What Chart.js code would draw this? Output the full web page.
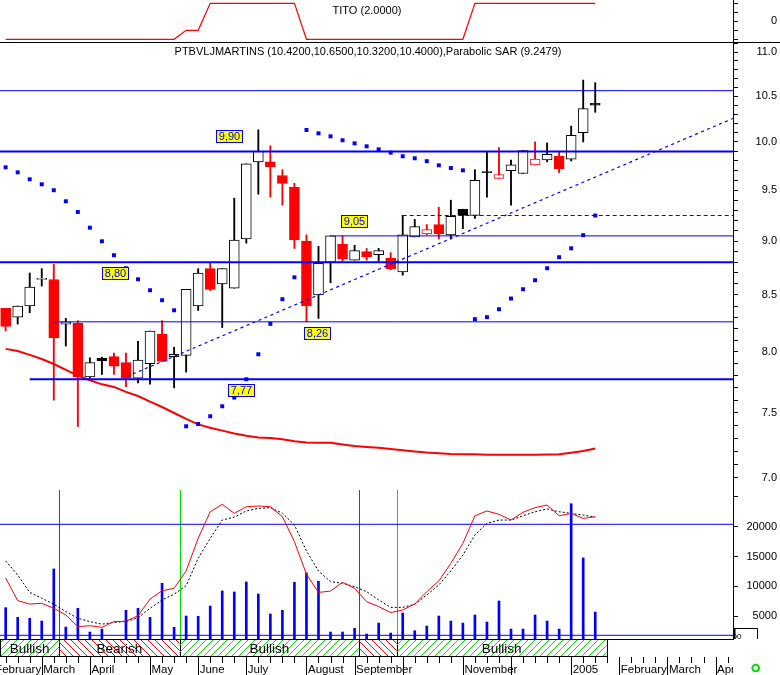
<!DOCTYPE html>
<html>
<head>
<meta charset="utf-8">
<script src="https://cdn.jsdelivr.net/npm/chart.js@4.4.1/dist/chart.umd.min.js"></script>
<style>
  html, body { margin: 0; padding: 0; background: #fff; }
  #wrap { position: relative; width: 780px; height: 675px; overflow: hidden; background: #fff; }
  canvas { position: absolute; left: 0; }
</style>
</head>
<body>
<div id="wrap">
  <canvas id="titoChart" width="780" height="43" style="top:0"></canvas>
  <canvas id="priceChart" width="780" height="447" style="top:43px"></canvas>
  <canvas id="volChart" width="780" height="185" style="top:490px"></canvas>
</div>
<script>
const FONT = "'Liberation Sans', Arial, sans-serif";
const X_MIN = -0.47;
const X_MAX = 60.45;

// --- weekly candles, Feb 2004 -> Jan 2005 ---
const opens  = [8.38, 8.30, 8.40, 8.64, 8.64, 8.24, 8.25, 7.79, 7.945, 7.96,
                7.91, 7.78, 7.90, 8.15, 7.96, 7.97, 8.40, 8.74, 8.60, 8.56,
                9.02, 9.79, 9.79, 9.65, 9.53, 9.00, 8.50, 8.80, 8.97, 8.82,
                8.90, 8.87, 8.84, 8.71, 9.04, 9.07, 9.16, 9.06, 9.31, 9.25,
                9.69, 9.62, 9.70, 9.67, 9.76, 9.81, 9.85, 9.82, 10.10, 10.42];
const highs  = [8.38, 8.40, 8.70, 8.74, 8.78, 8.29, 8.27, 7.95, 7.955, 7.99,
                7.99, 8.09, 8.18, 8.27, 8.04, 8.55, 8.74, 8.79, 8.74, 9.42,
                9.77, 10.13, 9.96, 9.71, 9.57, 9.06, 8.95, 9.05, 9.05, 8.96,
                8.93, 8.93, 8.89, 9.25, 9.21, 9.16, 9.33, 9.40, 9.31, 9.71,
                9.89, 9.94, 9.81, 9.91, 10.00, 9.99, 9.89, 10.17, 10.68, 10.65];
const lows   = [8.18, 8.24, 8.34, 8.58, 7.60, 8.05, 7.39, 7.78, 7.81, 7.81,
                7.71, 7.74, 7.73, 7.92, 7.70, 7.83, 8.36, 8.54, 8.21, 8.56,
                8.98, 9.46, 9.43, 9.35, 8.93, 8.26, 8.29, 8.61, 8.81, 8.82,
                8.82, 8.81, 8.73, 8.68, 9.04, 9.06, 9.02, 9.02, 9.12, 9.22,
                9.43, 9.62, 9.35, 9.67, 9.76, 9.79, 9.68, 9.80, 10.00, 10.32];
const closes = [8.22, 8.40, 8.57, 8.65, 8.12, 8.26, 7.79, 7.91, 7.925, 7.88,
                7.78, 7.93, 8.18, 7.92, 7.98, 8.55, 8.70, 8.55, 8.74, 9.01,
                9.77, 9.90, 9.74, 9.57, 9.01, 8.40, 8.79, 9.05, 8.83, 8.91,
                8.85, 8.91, 8.74, 9.06, 9.14, 9.11, 9.07, 9.24, 9.25, 9.60,
                9.68, 9.66, 9.76, 9.91, 9.82, 9.87, 9.72, 10.07, 10.36, 10.40];

const movingAvg = [8.026, 8.007, 7.975, 7.94, 7.898, 7.848, 7.801, 7.763, 7.729, 7.708,
                   7.667, 7.634, 7.588, 7.545, 7.497, 7.45, 7.407, 7.381, 7.358, 7.335,
                   7.318, 7.305, 7.30, 7.29, 7.276, 7.265, 7.263, 7.263, 7.251, 7.239,
                   7.231, 7.225, 7.216, 7.206, 7.197, 7.189, 7.184, 7.178, 7.175, 7.175,
                   7.172, 7.172, 7.172, 7.172, 7.172, 7.173, 7.176, 7.187, 7.201, 7.219];

const parabolicSar = [9.734, 9.682, 9.611, 9.56, 9.50, 9.389, 9.283, 9.129, 8.998, 8.866,
                      8.744, 8.642, 8.542, 8.452, 8.362, 7.392, 7.41, 7.471, 7.551, 7.621,
                      7.771, 7.98, 8.242, 8.461, 8.66, 10.128, 10.092, 10.06, 10.018, 9.985,
                      9.954, 9.922, 9.887, 9.849, 9.828, 9.798, 9.755, 9.727, 9.703, 8.283,
                      8.301, 8.371, 8.467, 8.551, 8.633, 8.744, 8.847, 8.931, 9.057, 9.2479];

const volumes = [6400, 4780, 4610, 4160, 12910, 3150, 6300, 2310, 2810, 800,
                 5960, 6300, 4780, 10500, 3100, 5000, 4950, 6680, 9210, 9040,
                 10720, 8700, 5340, 5960, 10670, 12240, 10840, 2310, 2310, 2930,
                 1970, 3820, 2140, 5500, 2530, 3320, 5000, 4160, 3820, 5170,
                 3990, 7530, 2810, 2810, 5170, 4160, 2810, 23860, 14760, 5670];

const stochK = [51.0, 38.7, 36.9, 37.3, 34.6, 31.0, 24.7, 25.2, 24.3, 27.4,
                27.6, 30.6, 39.6, 44.1, 45.4, 54.8, 72.4, 86.8, 90.8, 85.9,
                89.5, 89.9, 89.5, 84.1, 70.6, 53.0, 43.2, 43.9, 48.7, 45.4,
                38.2, 35.5, 32.3, 33.7, 36.9, 43.6, 49.4, 58.9, 69.7, 84.6,
                87.2, 85.4, 82.3, 86.5, 89.0, 90.4, 84.6, 85.9, 83.2, 84.1];
const stochD = [60.2, 52.6, 43.2, 40.0, 36.8, 32.8, 29.2, 27.4, 26.0, 27.0,
                27.4, 29.5, 34.6, 39.1, 42.2, 46.8, 61.6, 72.4, 82.3, 83.9,
                87.2, 88.6, 89.0, 86.0, 79.6, 65.6, 54.8, 49.0, 48.1, 46.3,
                43.6, 39.1, 35.1, 35.1, 36.8, 41.8, 47.2, 54.8, 63.4, 74.2,
                80.5, 82.3, 82.3, 84.6, 86.8, 88.3, 86.8, 85.9, 85.0, 83.9];
const stochLevels = [80, 20];

const tito = [-2, -2, -2, -2, -2, -2, -2, -2, -2, -2, -2, -2, -2, -2, -2, -1, -1,
              2, 2, 2, 2, 2, 2, 2, 2,
              -2, -2, -2, -2, -2, -2, -2, -2, -2, -2, -2, -2, -2, -2,
              2, 2, 2, 2, 2, 2, 2, 2, 2, 2, 2];

// support / resistance lines (null = from the left edge)
const majorLevels = [9.90, 8.80, 7.77];
const majorFrom   = [null, null, 2];
const minorLevels = [10.56, 9.05, 8.26];
const minorFrom   = [null, 27, 4];
const sarLineFrom = 33;
const trendIdx = [10.08, 60.45];
const trendVal = [7.794, 10.253];

const labelVals = [9.90, 8.80, 9.05, 8.26, 7.77];
const labelAt   = [17.5, 8.0, 27.85, 24.8, 18.45];
const labelSide = ['above', 'below', 'above', 'below', 'below'];

// signal bands under the volume panel
const bandEdges = [-0.47, 4.45, 14.45, 29.4, 32.5, 49.95];
const bandNames = ['Bullish', 'Bearish', 'Bullish', 'Bearish', 'Bullish'];

// x axis: week index where each month starts
const monthIdx   = [-1, 3, 7, 12, 16, 20, 25, 29, 33, 38, 42, 47, 51, 55, 59];
const monthNames = ['February', 'March', 'April', 'May', 'June', 'July', 'August', 'September',
                    'October', 'November', 'December', '2005', 'February', 'March', 'April'];

const priceLabels = [7.0, 7.5, 8.0, 8.5, 9.0, 9.5, 10.0, 10.5, 11.0];
const volumeTicks = [5000, 10000, 15000, 20000, 25000];
const titoTicks = [-2, -1, 0, 1, 2];

Chart.defaults.font.family = FONT;
Chart.defaults.color = '#000';

const BLUE = '#0000ff';
const RED = '#ff0000';
const GREEN = '#00e000';

const pts = arr => arr.map((v, i) => ({ x: i, y: v }));
const hLine = (v, from) => [{ x: from == null ? X_MIN : from, y: v }, { x: X_MAX, y: v }];
const xScale = () => ({ type: 'linear', min: X_MIN, max: X_MAX, offset: false, display: false });

function fixAxis(scale) {
    scale.width = 44;
    scale.paddingTop = 0;
    scale.paddingBottom = 0;
}

function baseOptions(bottom) {
    return {
        responsive: false,
        animation: false,
        devicePixelRatio: 1,
        events: [],
        layout: { autoPadding: false, padding: { left: 0, top: 0, right: 3, bottom: bottom } },
        plugins: { legend: { display: false }, tooltip: { enabled: false } }
    };
}

function rightAxis(extra) {
    return Object.assign({
        position: 'right',
        beginAtZero: false,
        afterFit: fixAxis,
        grid: { drawOnChartArea: false, tickLength: 5, color: '#000' },
        border: { color: '#000' }
    }, extra);
}

// --- candle colouring: hollow when close > open, red when close fell vs previous close ---
const candleUp = closes.map((c, i) => c > opens[i]);
const candleCol = closes.map((c, i) => (c < (i ? closes[i - 1] : opens[i]) ? RED : '#000000'));

// --- TITO panel ---
const titoDecor = {
    id: 'titoDecor',
    afterDraw(chart) {
        const { ctx, chartArea: a } = chart;
        ctx.save();
        ctx.strokeStyle = '#000';
        ctx.lineWidth = 1;
        ctx.beginPath();
        ctx.moveTo(0, a.bottom + 0.5);
        ctx.lineTo(chart.width, a.bottom + 0.5);
        ctx.stroke();
        ctx.fillStyle = '#000';
        ctx.font = '11px ' + FONT;
        ctx.textAlign = 'center';
        ctx.textBaseline = 'middle';
        ctx.fillText('TITO (' + tito[tito.length - 1].toFixed(4) + ')', 367, 11);
        ctx.restore();
    }
};

new Chart(document.getElementById('titoChart'), {
    type: 'line',
    data: {
        datasets: [{
            data: pts(tito), borderColor: RED, borderWidth: 1.2,
            pointRadius: 0, tension: 0
        }]
    },
    options: Object.assign(baseOptions(1), {
        scales: {
            x: xScale(),
            y: rightAxis({
                min: -2.3, max: 2.367,
                afterBuildTicks: s => { s.ticks = titoTicks.map(v => ({ value: v })); },
                ticks: {
                    autoSkip: false, padding: 32, crossAlign: 'far', font: { size: 11 },
                    callback: v => (v === 0 ? '0' : '')
                }
            })
        }
    }),
    plugins: [titoDecor]
});

// --- price panel ---
const last = closes.length - 1;
const titleText = 'PTBVLJMARTINS (' +
    [opens[last], highs[last], lows[last], closes[last]].map(v => v.toFixed(4)).join(',') +
    '),Parabolic SAR (' + parabolicSar[last].toFixed(4) + ')';

const priceDecor = {
    id: 'priceDecor',
    afterDraw(chart) {
        const { ctx, scales: { x, y } } = chart;
        ctx.save();
        ctx.fillStyle = '#000';
        ctx.font = '11px ' + FONT;
        ctx.textAlign = 'center';
        ctx.textBaseline = 'middle';
        ctx.fillText(titleText, 368, 9);

        labelVals.forEach((v, k) => {
            const txt = v.toFixed(2).replace('.', ',');
            const w = Math.round(ctx.measureText(txt).width + 6);
            const h = 13;
            const left = Math.round(x.getPixelForValue(labelAt[k]));
            const py = y.getPixelForValue(v);
            const top = Math.round(labelSide[k] === 'above' ? py - 8 - h : py + 5);
            ctx.fillStyle = '#ffff00';
            ctx.fillRect(left, top, w, h);
            ctx.strokeStyle = BLUE;
            ctx.lineWidth = 1;
            ctx.strokeRect(left + 0.5, top + 0.5, w - 1, h - 1);
            ctx.fillStyle = BLUE;
            ctx.fillText(txt, left + w / 2, top + h / 2 + 0.5);
        });
        ctx.restore();
    }
};

const levelSets = [];
majorLevels.forEach((v, k) => levelSets.push({
    type: 'line', data: hLine(v, majorFrom[k]), borderColor: BLUE, borderWidth: 2,
    pointRadius: 0, order: 1
}));
minorLevels.forEach((v, k) => levelSets.push({
    type: 'line', data: hLine(v, minorFrom[k]), borderColor: BLUE, borderWidth: 1,
    pointRadius: 0, order: 1
}));

new Chart(document.getElementById('priceChart'), {
    type: 'bar',
    data: {
        datasets: [
            {
                type: 'line', data: pts(parabolicSar), showLine: false,
                pointStyle: 'rect', pointRadius: 2.8, pointBackgroundColor: BLUE,
                pointBorderWidth: 0, order: 0
            },
            ...levelSets,
            {
                type: 'line', data: hLine(parabolicSar[last], sarLineFrom), borderColor: BLUE,
                borderWidth: 1, borderDash: [4, 3], pointRadius: 0, order: 1
            },
            {
                type: 'line', data: trendIdx.map((t, k) => ({ x: t, y: trendVal[k] })),
                borderColor: BLUE, borderWidth: 1.2, borderDash: [3, 3.5], pointRadius: 0, order: 1
            },
            {
                type: 'line', data: pts(movingAvg), borderColor: RED, borderWidth: 2,
                pointRadius: 0, tension: 0, order: 2
            },
            {
                label: 'body',
                data: opens.map((o, i) => ({ x: i, y: [o, closes[i]] })),
                backgroundColor: candleUp.map((u, i) => (u ? '#ffffff' : candleCol[i])),
                borderColor: candleCol, borderWidth: 1, borderSkipped: false,
                barThickness: 10, grouped: false, order: 3
            },
            {
                label: 'wick',
                data: lows.map((l, i) => ({ x: i, y: [l, highs[i]] })),
                backgroundColor: candleCol, borderWidth: 0,
                barThickness: 1.2, grouped: false, order: 4
            }
        ]
    },
    options: Object.assign(baseOptions(0), {
        scales: {
            x: xScale(),
            y: rightAxis({
                type: 'logarithmic', min: 6.908, max: 11.109, bounds: 'data',
                afterBuildTicks: s => {
                    const t = [];
                    for (let k = 69; k <= 111; k++) {
                        if (k / 10 >= s.min && k / 10 <= s.max) t.push({ value: k / 10 });
                    }
                    s.ticks = t;
                },
                ticks: {
                    autoSkip: false, padding: 13, crossAlign: 'far', font: { size: 11 },
                    callback: v => (priceLabels.some(p => Math.abs(p - v) < 1e-6) ? v.toFixed(1) : '')
                }
            })
        }
    }),
    plugins: [priceDecor]
});

// --- volume / stochastic panel with signal bands and date axis ---
const volDecor = {
    id: 'volDecor',
    beforeDatasetsDraw(chart) {
        const { ctx, chartArea: a, scales: { x } } = chart;
        ctx.save();
        ctx.lineWidth = 1;
        for (let k = 1; k < bandNames.length; k++) {
            const px = Math.round(x.getPixelForValue(bandEdges[k])) + 0.5;
            ctx.strokeStyle = bandNames[k] === 'Bullish' ? GREEN : RED;
            ctx.beginPath();
            ctx.moveTo(px, a.top);
            ctx.lineTo(px, a.bottom);
            ctx.stroke();
        }
        ctx.restore();
    },
    afterDraw(chart) {
        const { ctx, chartArea: a, scales: { x } } = chart;
        const top = a.bottom;
        const bot = a.bottom + 18;
        const h = bot - top;
        ctx.save();
        ctx.lineWidth = 1;
        let bandEnd = 0;
        bandNames.forEach((name, k) => {
            const x0 = Math.max(0, x.getPixelForValue(bandEdges[k]));
            const x1 = x.getPixelForValue(bandEdges[k + 1]);
            bandEnd = Math.round(x1) + 0.5;
            ctx.save();
            ctx.beginPath();
            ctx.rect(x0, top, x1 - x0, h);
            ctx.clip();
            ctx.strokeStyle = name === 'Bullish' ? GREEN : RED;
            ctx.beginPath();
            for (let s = Math.floor((x0 - h) / 7) * 7; s < x1 + h; s += 7) {
                if (name === 'Bullish') { ctx.moveTo(s, bot); ctx.lineTo(s + h, top); }
                else { ctx.moveTo(s, top); ctx.lineTo(s + h, bot); }
            }
            ctx.stroke();
            ctx.restore();
            ctx.font = '13.5px ' + FONT;
            if (ctx.measureText(name).width + 6 < x1 - x0) {
                ctx.fillStyle = '#000';
                ctx.textAlign = 'center';
                ctx.textBaseline = 'middle';
                ctx.fillText(name, (x0 + x1) / 2, top + h / 2 + 1);
            }
            ctx.strokeStyle = '#000';
            ctx.beginPath();
            ctx.moveTo(bandEnd, top);
            ctx.lineTo(bandEnd, bot);
            ctx.stroke();
        });
        ctx.strokeStyle = '#000';
        ctx.beginPath();
        ctx.moveTo(0, top + 0.5); ctx.lineTo(a.right, top + 0.5);
        ctx.moveTo(0, bot - 0.5); ctx.lineTo(bandEnd, bot - 0.5);
        ctx.moveTo(0.5, top); ctx.lineTo(0.5, bot);
        ctx.stroke();

        // weekly ticks, month starts get long ticks and labels
        ctx.beginPath();
        for (let i = Math.ceil(X_MIN) - 1; i <= Math.floor(X_MAX); i++) {
            const px = Math.round(x.getPixelForValue(i)) + 0.5;
            if (px < 0 || px > a.right) continue;
            ctx.moveTo(px, bot);
            ctx.lineTo(px, bot + (monthIdx.includes(i) ? 18 : 6));
        }
        ctx.stroke();
        ctx.save();
        ctx.beginPath();
        ctx.rect(0, bot, a.right, 30);
        ctx.clip();
        ctx.font = '11.5px ' + FONT;
        ctx.fillStyle = '#000';
        ctx.textAlign = 'left';
        ctx.textBaseline = 'alphabetic';
        let lastRight = -Infinity;
        monthIdx.forEach((m, k) => {
            const lx = x.getPixelForValue(m) + 1.5;
            const w = ctx.measureText(monthNames[k]).width;
            if (lx < lastRight + 1) return;
            ctx.fillText(monthNames[k], lx, bot + 16);
            lastRight = lx + w;
        });
        ctx.restore();

        // small clipped label box at the foot of the volume axis
        ctx.strokeStyle = '#000';
        ctx.beginPath();
        ctx.moveTo(a.right, 138.5); ctx.lineTo(757.5, 138.5); ctx.lineTo(757.5, 149);
        ctx.stroke();
        ctx.fillStyle = '#000';
        ctx.fillRect(a.right, 138, 2.5, 11);
        ctx.font = '8px ' + FONT;
        ctx.fillText('00', 737, 146.5);

        // status marker
        ctx.strokeStyle = '#00dd00';
        ctx.lineWidth = 2;
        ctx.beginPath();
        ctx.arc(755.7, 178, 3.3, 0, Math.PI * 2);
        ctx.stroke();
        ctx.restore();
    }
};

new Chart(document.getElementById('volChart'), {
    type: 'bar',
    data: {
        datasets: [
            {
                type: 'line', yAxisID: 'st', data: pts(stochK), borderColor: RED,
                borderWidth: 1, pointRadius: 0, tension: 0, order: 0
            },
            {
                type: 'line', yAxisID: 'st', data: pts(stochD), borderColor: '#000',
                borderWidth: 1, borderDash: [2, 2], pointRadius: 0, tension: 0, order: 1
            },
            ...stochLevels.map(v => ({
                type: 'line', yAxisID: 'st', data: hLine(v, null), borderColor: BLUE,
                borderWidth: 1, pointRadius: 0, order: 2
            })),
            {
                yAxisID: 'y', data: pts(volumes), backgroundColor: BLUE,
                barThickness: 2, grouped: false, order: 3
            }
        ]
    },
    options: Object.assign(baseOptions(36), {
        scales: {
            x: xScale(),
            y: rightAxis({
                min: 1142, max: 26167,
                afterBuildTicks: s => { s.ticks = volumeTicks.map(v => ({ value: v })); },
                ticks: {
                    autoSkip: false, padding: 6, crossAlign: 'far', font: { size: 11 },
                    callback: v => (v < 25000 ? String(v) : '')
                }
            }),
            st: { type: 'linear', display: false, min: 18.0, max: 98.54 }
        }
    }),
    plugins: [volDecor]
});
</script>
</body>
</html>
